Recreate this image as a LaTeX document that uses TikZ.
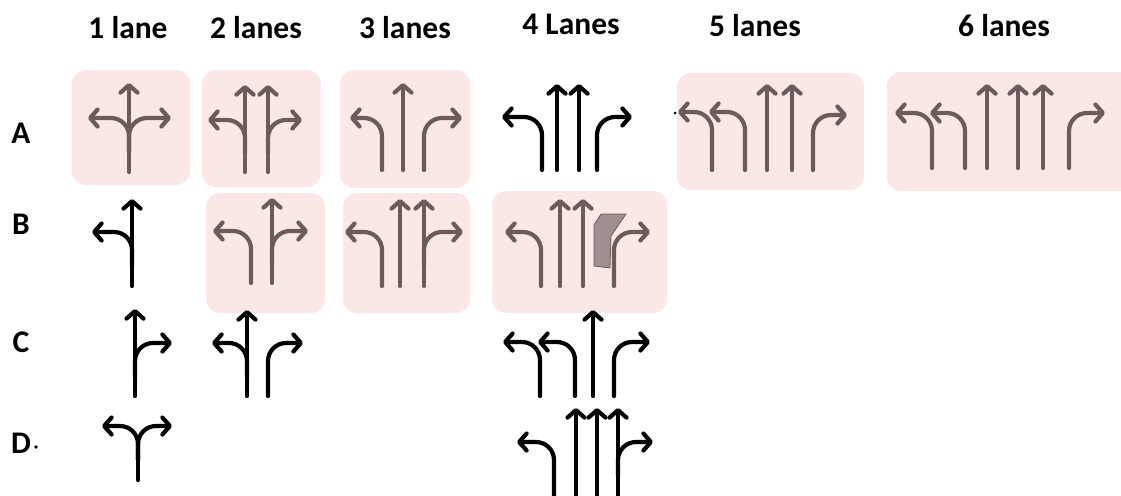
\documentclass[tikz,border=0pt]{standalone}
\usepackage{fontspec}
\setmainfont{Carlito}
\usetikzlibrary{arrows.meta}
\definecolor{pinkbg}{RGB}{252,231,231}
\definecolor{arbrown}{RGB}{110,90,90}
\definecolor{shadefill}{RGB}{160,142,142}
\tikzset{
  lanebox/.style={fill=pinkbg, draw=none, rounded corners=14pt},
  ar/.style={line width=4.2pt, line cap=round, line join=round,
    -{Straight Barb[length=7.5pt,width=17pt,round,line width=4.2pt]}},
  br/.style={draw=arbrown},
  bk/.style={draw=black},
  turn/.style={rounded corners=18pt},
  lbl/.style={font=\fontsize{31.5}{32}\selectfont\bfseries, anchor=base, inner sep=0pt},
}
\newcommand{\straightar}[4]{\draw[ar,#4] (#1,#2) -- (#1,#3);}
\newcommand{\turnar}[5]{\draw[ar,turn,#5] (#1,#2) |- (#3,#4);}
\begin{document}
\begin{tikzpicture}[x=1pt,y=-1pt]
\useasboundingbox (0,0) rectangle (1121,495);
% headers
\node[lbl] (h1) at (128,39) {1 lane};
\node[lbl] (h2) at (256,39) {2 lanes};
\node[lbl] (h3) at (405,38) {3 lanes};
\node[lbl] (h4) at (571,35) {4 Lanes};
\node[lbl] (h5) at (755,37) {5 lanes};
\node[lbl] (h6) at (1004,37) {6 lanes};
% row labels
\node[lbl] (ra) at (21,143) {A};
\node[lbl] (rb) at (21,234) {B};
\node[lbl] (rc) at (21,352) {C};
\node[lbl] (rd) at (21,453) {D};
\fill (36,447) circle (1.8);
% boxes
\fill[lanebox] (72,70) rectangle (190,185);
\fill[lanebox] (202,70) rectangle (321,187);
\fill[lanebox] (340,70) rectangle (470,188);
\fill[lanebox] (677,73) rectangle (864,190);
\fill[lanebox] (887,72) rectangle (1135,191);
\fill[lanebox] (206,193) rectangle (325,313);
\fill[lanebox] (343,193) rectangle (470,313);
\fill[lanebox] (492,191) rectangle (667,313);
% A1
\straightar{129}{172}{83}{br}
\turnar{129}{152}{88}{118}{br}
\turnar{129}{152}{171}{118}{br}
% A2
\straightar{245}{172}{85}{br}
\straightar{268}{172}{85}{br}
\turnar{245}{154}{208}{120}{br}
\turnar{268}{154}{302}{120}{br}
% A3
\turnar{382}{170}{350}{118}{br}
\straightar{403}{170}{83}{br}
\turnar{424}{170}{462}{118}{br}
% A4
\turnar{542}{170}{502}{117}{bk}
\straightar{557}{170}{84}{bk}
\straightar{579}{170}{84}{bk}
\turnar{597}{170}{632}{117}{bk}
% A5
\turnar{712}{170}{678}{112}{br}
\turnar{745}{170}{709}{112}{br}
\straightar{767}{170}{84}{br}
\straightar{792}{170}{84}{br}
\turnar{813}{170}{847}{115}{br}
\fill (675,113) circle (1.5);
% A6
\turnar{932}{168}{895}{113}{br}
\turnar{965}{168}{930}{113}{br}
\straightar{987}{168}{84}{br}
\straightar{1018}{168}{84}{br}
\straightar{1043}{168}{84}{br}
\turnar{1069}{168}{1105}{113}{br}
% B1
\straightar{132}{286}{199}{bk}
\turnar{132}{266}{92}{232}{bk}
% B2
\turnar{251}{283}{213}{231}{br}
\straightar{272}{283}{198}{br}
\turnar{272}{265}{308}{231}{br}
% B3
\turnar{382}{286}{345}{232}{br}
\straightar{400}{286}{199}{br}
\straightar{424}{286}{199}{br}
\turnar{424}{266}{463}{232}{br}
% B4
\turnar{541}{286}{505}{232}{br}
\straightar{560}{286}{199}{br}
\straightar{583}{286}{199}{br}
\turnar{614}{286}{650}{232}{br}
\filldraw[fill=shadefill, draw=arbrown, line width=0.8pt]
  (601,214) -- (626,214) -- (611,236) -- (610,268) -- (594,266) -- (594,225) -- cycle;
% C1
\straightar{135}{396}{309}{bk}
\turnar{135}{377}{172}{343}{bk}
% C2
\straightar{247}{396}{310}{bk}
\turnar{247}{377}{212}{343}{bk}
\turnar{268}{396}{303}{343}{bk}
% C4
\turnar{540}{396}{503}{342}{bk}
\turnar{575}{396}{538}{342}{bk}
\straightar{593}{396}{310}{bk}
\turnar{614}{396}{650}{342}{bk}
% D1
\draw[line width=4.2pt, line cap=round] (138,480) -- (138,450);
\turnar{138}{460}{102}{426}{bk}
\turnar{138}{460}{172}{426}{bk}
% D4
\turnar{554}{497}{517}{442}{bk}
\straightar{576}{497}{408}{bk}
\straightar{597}{497}{408}{bk}
\straightar{618}{497}{408}{bk}
\turnar{618}{476}{653}{442}{bk}
\end{tikzpicture}
\end{document}
